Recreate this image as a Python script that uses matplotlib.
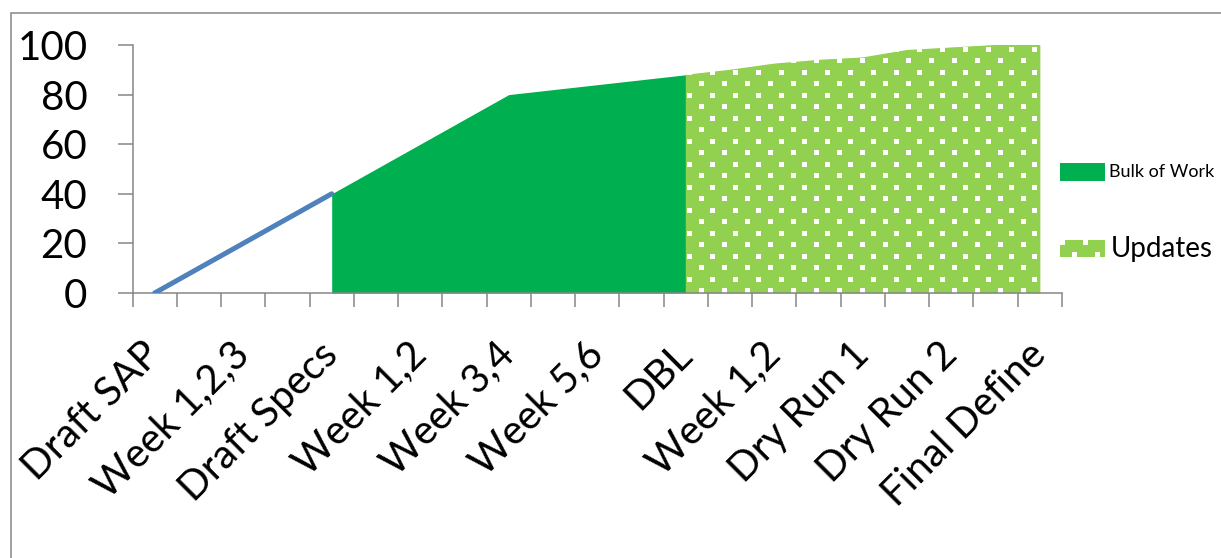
import numpy as np
import matplotlib
matplotlib.use('Agg')
import matplotlib.pyplot as plt
from matplotlib.patches import Rectangle

plt.rcParams['font.family'] = ['Lato', 'DejaVu Sans']

# categories (21 slots, every other one labelled)
tick_labels = ['Draft SAP', 'Week 1,2,3', 'Draft Specs', 'Week 1,2', 'Week 3,4',
               'Week 5,6', 'DBL', 'Week 1,2', 'Dry Run 1', 'Dry Run 2', 'Final Define']
n_cat = 21

# series
line_x = [0, 1, 2, 3, 4]
line_y = [0, 10, 20, 30, 40]
bulk_x = [4, 5, 6, 7, 8, 9, 10, 11, 12]
bulk_y = [40, 50, 60, 70, 80, 82, 84, 86, 88]
upd_x = [12, 13, 14, 15, 16, 17, 18, 19, 20]
upd_y = [88, 90, 92.5, 94, 95, 98, 99, 100, 100]

W, H = 1221, 558
fig = plt.figure(figsize=(W / 100, H / 100), dpi=100)
ax = fig.add_axes([132.5 / W, 1 - 293 / H, (1062 - 132.5) / W, (293 - 45) / H])

gray = '#868686'
green = '#00B050'
lgreen = '#92D050'


def dot_pattern(h, w, row0=1.5, c_even=2.0, c_odd=13.5):
    # light green fill with staggered white squares
    yy, xx = np.mgrid[0:h, 0:w].astype(float)
    row = np.floor((yy - row0) / 11.5)
    in_row = ((yy - row0) % 11.5) < 5
    shift = np.where(row % 2 == 0, c_even, c_odd)
    in_col = ((xx - shift) % 23) < 5
    img = np.zeros((h, w, 4))
    img[..., :3] = matplotlib.colors.to_rgb(lgreen)
    img[..., 3] = 1
    img[in_row & in_col, :3] = 1.0
    return img


ax.fill_between(bulk_x, bulk_y, 0, color=green, lw=0)
upd = ax.fill_between(upd_x, upd_y, 0, color=lgreen, lw=0)
im = ax.imshow(dot_pattern(248, 930), extent=(-0.5, n_cat - 0.5, 0, 100), origin='upper',
               aspect='auto', interpolation='nearest', zorder=2)
im.set_clip_path(upd.get_paths()[0], transform=ax.transData)
ax.plot(line_x, line_y, color='#4F81BD', lw=3.6, solid_capstyle='round', zorder=3)

ax.set_xlim(-0.5, n_cat - 0.5)
ax.set_ylim(0, 100)
ax.set_yticks(range(0, 101, 20))
ax.set_xticks(range(0, n_cat, 2))
ax.set_xticklabels(tick_labels, rotation=45, ha='right', va='center',
                   rotation_mode='anchor', fontsize=29)
ax.set_xticks(np.arange(-0.5, n_cat, 1), minor=True)
ax.tick_params(axis='x', which='major', length=0, pad=40)
ax.tick_params(axis='x', which='minor', length=10, width=1.1, color=gray, direction='out')
ax.tick_params(axis='y', length=10.5, width=1.1, color=gray, direction='out',
               labelsize=29, pad=22)
for s in ['top', 'right']:
    ax.spines[s].set_visible(False)
for s in ['left', 'bottom']:
    ax.spines[s].set_color(gray)
    ax.spines[s].set_linewidth(1.1)

# legend
fig.patches.append(Rectangle((1060 / W, 1 - 181 / H), 45 / W, 18 / H,
                             transform=fig.transFigure, color=green, lw=0))
lax = fig.add_axes([1060 / W, 1 - 257 / H, 45 / W, 17 / H])
lax.imshow(dot_pattern(17, 45, row0=0, c_even=0, c_odd=11.5), aspect='auto',
           interpolation='nearest')
lax.axis('off')
fig.text(1109 / W, 1 - 172 / H, 'Bulk of Work', fontsize=13, va='center', ha='left')
fig.text(1111 / W, 1 - 249 / H, 'Updates', fontsize=20, va='center', ha='left')

# chart border
fig.patches.append(Rectangle((11 / W, -0.1), 1.2, 1.1 - 13 / H, transform=fig.transFigure,
                             fill=False, edgecolor=gray, lw=1.1))

fig.savefig('out.png', dpi=100)
